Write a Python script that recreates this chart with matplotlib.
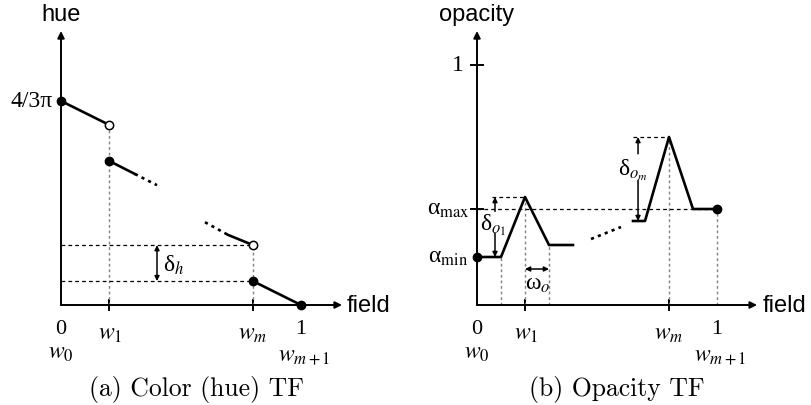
import matplotlib.pyplot as plt

plt.rcParams['mathtext.fontset'] = 'stix'
plt.rcParams['font.family'] = ['Liberation Serif', 'DejaVu Serif']

# field breakpoints w0, w1, wm, wm+1
w_pos = [0.0, 0.2, 0.8, 1.0]
w_names = [r'$w_0$', r'$w_1$', r'$w_m$', r'$w_{m+1}$']

# (a) colour (hue) TF, hue in radians
hue_top = 4.19  # 4/3 pi
hue_a_x, hue_a_y = [0.0, 0.2], [4.19, 3.70]
hue_b_x, hue_b_y = [0.2, 0.308], [2.96, 2.69]
hue_b_dot_x, hue_b_dot_y = [0.308, 0.4], [2.69, 2.46]
hue_c_dot_x, hue_c_dot_y = [0.6, 0.696], [1.70, 1.44]
hue_c_x, hue_c_y = [0.696, 0.8], [1.44, 1.23]
hue_d_x, hue_d_y = [0.8, 1.0], [0.49, 0.0]

# (b) opacity TF
alpha_min, alpha_max = 0.2, 0.4
op_a_x = [0.0, 0.1, 0.2, 0.3, 0.4]
op_a_y = [0.2, 0.2, 0.45, 0.25, 0.25]
op_dot_x, op_dot_y = [0.475, 0.6], [0.275, 0.325]
op_b_x = [0.65, 0.7, 0.8, 0.9, 1.0]
op_b_y = [0.35, 0.35, 0.7, 0.4, 0.4]

LW = 1.9
GRAY = '#808080'
DOT = (0, (1.2, 1.6))
SANS = ['Liberation Sans', 'DejaVu Sans']

fig = plt.figure(figsize=(8.12, 4.06), dpi=100, facecolor='white')


def arrow(ax, xy, start, both=False, lw=1.4, ms=10):
    ax.annotate('', xy=xy, xytext=start,
                arrowprops=dict(arrowstyle='<|-|>' if both else '-|>', color='k',
                                lw=lw, shrinkA=0, shrinkB=0, mutation_scale=ms))


def xlabels(ax):
    for x, t in zip(w_pos, ['0', None, None, '1']):
        if t:
            ax.annotate(t, (x, 0), xytext=(0, -14), textcoords='offset pixels',
                        ha='center', va='top', fontsize=16)
    offs = [(0, -37), (1, -18), (0, -18), (3, -40)]
    for x, t, o in zip(w_pos, w_names, offs):
        ax.annotate(t, (x, 0), xytext=o, textcoords='offset pixels',
                    ha='center', va='top', fontsize=17)
    ax.annotate('field', (1.19, 0), ha='left', va='center', fontsize=17, family=SANS)


# ---------- (a) hue ----------
ax = fig.add_axes([0, 0, 0.5, 1])
sy = 48.7  # pixels per radian
ax.set_xlim(-61 / 240, 345 / 240)
ax.set_ylim(-100 / sy, 306 / sy)
ax.axis('off')

arrow(ax, (1.171, 0), (0, 0))
arrow(ax, (0, 274 / sy), (0, 0))
for x in w_pos[1:3]:
    ax.plot([x, x], [-5 / sy, 5 / sy], color='k', lw=1.4)

ax.plot([0.2, 0.2], [0, hue_a_y[1]], color=GRAY, lw=1, ls=(0, (2, 2)))
ax.plot([0.8, 0.8], [0, hue_c_y[1]], color=GRAY, lw=1, ls=(0, (2, 2)))
ax.plot([0, 0.8], [hue_c_y[1]] * 2, color='k', lw=0.9, ls=(0, (3, 2.5)))
ax.plot([0, 0.8], [hue_d_y[0]] * 2, color='k', lw=0.9, ls=(0, (3, 2.5)))

ax.plot(hue_a_x, hue_a_y, color='k', lw=LW)
ax.plot(hue_b_x, hue_b_y, color='k', lw=LW)
ax.plot(hue_b_dot_x, hue_b_dot_y, color='k', lw=LW, ls=DOT)
ax.plot(hue_c_dot_x, hue_c_dot_y, color='k', lw=LW, ls=DOT)
ax.plot(hue_c_x, hue_c_y, color='k', lw=LW)
ax.plot(hue_d_x, hue_d_y, color='k', lw=LW)
ax.plot([0, 0.2, 0.8, 1.0], [hue_a_y[0], hue_b_y[0], hue_d_y[0], hue_d_y[1]],
        'o', color='k', ms=6, zorder=5, clip_on=False)
ax.plot([0.2, 0.8], [hue_a_y[1], hue_c_y[1]], 'o', mfc='white', mec='k',
        mew=1.1, ms=6, zorder=5)

arrow(ax, (0.4, hue_c_y[1]), (0.4, hue_d_y[0]), both=True, lw=1.1, ms=7)
ax.text(0.425, 0.84, r'δ$_h$', ha='left', va='center', fontsize=17)

ax.text(-0.035, hue_top, '4/3π', ha='right', va='center', fontsize=17)
ax.text(0, 291 / sy, 'hue', ha='center', va='center', fontsize=17, family=SANS)
xlabels(ax)

# ---------- (b) opacity ----------
ax = fig.add_axes([0.5, 0, 0.5, 1])
sy = 240.0
ax.set_xlim(-71 / 240, 335 / 240)
ax.set_ylim(-100 / sy, 306 / sy)
ax.axis('off')

arrow(ax, (1.167, 0), (0, 0))
arrow(ax, (0, 274 / sy), (0, 0))
for x in w_pos[1:3]:
    ax.plot([x, x], [-5 / sy, 5 / sy], color='k', lw=1.4)
for y in [1.0, alpha_max]:
    ax.plot([-6 / 240, 6 / 240], [y, y], color='k', lw=1.4)

for x, y in [(0.1, 0.2), (0.2, 0.45), (0.3, 0.25), (0.8, 0.7), (1.0, 0.4)]:
    ax.plot([x, x], [0, y], color=GRAY, lw=1, ls=(0, (2, 2)))
ax.plot([0, 1.0], [alpha_max] * 2, color='k', lw=0.9, ls=(0, (3, 2.5)))
ax.plot([0.0625, 0.2], [0.45] * 2, color='k', lw=0.9, ls=(0, (3, 2.5)))
ax.plot([0.65, 0.8], [0.7] * 2, color='k', lw=0.9, ls=(0, (3, 2.5)))

ax.plot(op_a_x, op_a_y, color='k', lw=LW)
ax.plot(op_dot_x, op_dot_y, color='k', lw=LW, ls=DOT)
ax.plot(op_b_x, op_b_y, color='k', lw=LW)
ax.plot([0, 1.0], [alpha_min, alpha_max], 'o', color='k', ms=6, zorder=5,
        clip_on=False)

arrow(ax, (0.075, 0.45), (0.075, 0.39), lw=1.1, ms=7)
arrow(ax, (0.075, 0.2), (0.075, 0.30), lw=1.1, ms=7)
ax.text(0.068, 0.335, r'δ$_{o_1}$', ha='center', va='center', fontsize=17)
arrow(ax, (0.671, 0.7), (0.671, 0.63), lw=1.1, ms=7)
arrow(ax, (0.671, 0.35), (0.671, 0.52), lw=1.1, ms=7)
ax.text(0.65, 0.567, r'δ$_{o_m}$', ha='center', va='center', fontsize=17)
arrow(ax, (0.3, 0.15), (0.2, 0.15), both=True, lw=1.1, ms=7)
ax.text(0.254, 0.0875, r'ω$_o$', ha='center', va='center', fontsize=17)

ax.text(-0.055, 1.0, '1', ha='right', va='center', fontsize=17)
ax.text(-0.029, alpha_max, r'α$_{\mathrm{max}}$', ha='right', va='center', fontsize=17)
ax.text(-0.035, alpha_min, r'α$_{\mathrm{min}}$', ha='right', va='center', fontsize=17)
ax.text(0, 291 / sy, 'opacity', ha='center', va='center', fontsize=17, family=SANS)
xlabels(ax)

fig.text(197 / 812, 1 - 390 / 406, '(a) Color (hue) TF', ha='center', va='center',
         fontsize=18.5, family=['cmr10', 'DejaVu Serif'])
fig.text(617 / 812, 1 - 390 / 406, '(b) Opacity TF', ha='center', va='center',
         fontsize=18.5, family=['cmr10', 'DejaVu Serif'])

fig.savefig('out.png', dpi=100, facecolor='white')
